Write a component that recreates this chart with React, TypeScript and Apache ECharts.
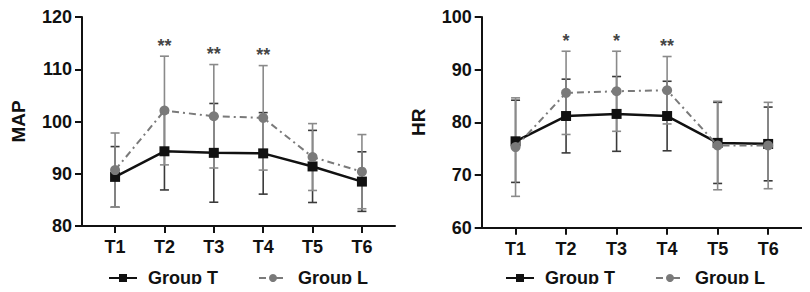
import React, { useEffect, useRef } from "react";
import * as echarts from "echarts";

const categories = ["T1", "T2", "T3", "T4", "T5", "T6"];

const mapT = [89.4, 94.3, 94.0, 93.9, 91.4, 88.5];
const mapTsd = [5.8, 7.4, 9.45, 7.8, 6.9, 5.7];
const mapL = [90.7, 102.1, 101.0, 100.7, 93.2, 90.4];
const mapLsd = [7.1, 10.4, 9.9, 10.0, 6.4, 7.1];
const mapSig = ["", "**", "**", "**", "", ""];

const hrT = [76.4, 81.2, 81.6, 81.2, 76.1, 75.9];
const hrTsd = [7.8, 7.0, 7.1, 6.6, 7.7, 7.0];
const hrL = [75.3, 85.6, 85.9, 86.1, 75.6, 75.6];
const hrLsd = [9.35, 7.9, 7.6, 6.4, 8.4, 8.2];
const hrSig = ["", "*", "*", "**", "", ""];

const mapTicks = { min: 80, max: 120, interval: 10 };
const hrTicks = { min: 60, max: 100, interval: 10 };

const FONT = "Liberation Sans, Arial, sans-serif";
const T_COLOR = "#111111";
const L_COLOR = "#7a7a7a";
const T_ERR = "#3a3a3a";
const L_ERR = "#8a8a8a";

function errorSeries(means: number[], sds: number[], color: string, idx: number, z: number) {
  return {
    type: "custom",
    xAxisIndex: idx,
    yAxisIndex: idx,
    z,
    silent: true,
    data: means.map((m, i) => [i + 1, m - sds[i], m + sds[i]]),
    renderItem: (params: any, api: any) => {
      const lo = api.coord([api.value(0), api.value(1)]);
      const hi = api.coord([api.value(0), api.value(2)]);
      const hw = 4.5;
      const style = { stroke: color, lineWidth: 1.6, fill: "none" };
      return {
        type: "group",
        children: [
          { type: "line", shape: { x1: lo[0], y1: lo[1], x2: hi[0], y2: hi[1] }, style },
          { type: "line", shape: { x1: lo[0] - hw, y1: lo[1], x2: lo[0] + hw, y2: lo[1] }, style },
          { type: "line", shape: { x1: hi[0] - hw, y1: hi[1], x2: hi[0] + hw, y2: hi[1] }, style },
        ],
      };
    },
  };
}

function buildPanel(
  idx: number,
  name: string,
  ticks: { min: number; max: number; interval: number },
  tVals: number[],
  tSd: number[],
  lVals: number[],
  lSd: number[],
  sig: string[]
) {
  const xAxis = {
    type: "value",
    gridIndex: idx,
    min: 0.33,
    max: 6.67,
    splitLine: { show: false },
    axisLine: { show: true, onZero: false, lineStyle: { color: "#111", width: 2 } },
    axisTick: { show: true, length: 7, lineStyle: { color: "#111", width: 2 }, customValues: categories.map((_, i) => i + 1) },
    axisLabel: {
      customValues: categories.map((_, i) => i + 1),
      formatter: (v: number) => categories[Math.round(v) - 1] ?? "",
      color: "#111",
      fontWeight: "bold",
      fontSize: 18,
      fontFamily: FONT,
      margin: 12,
    },
  };
  const yAxis = {
    type: "value",
    gridIndex: idx,
    min: ticks.min,
    max: ticks.max,
    interval: ticks.interval,
    name,
    nameLocation: "middle",
    nameGap: 54,
    nameTextStyle: { color: "#111", fontWeight: "bold", fontSize: 19, fontFamily: FONT },
    splitLine: { show: false },
    axisLine: { show: true, lineStyle: { color: "#111", width: 2 } },
    axisTick: { show: true, length: 7, lineStyle: { color: "#111", width: 2 } },
    axisLabel: { color: "#111", fontWeight: "bold", fontSize: 18, fontFamily: FONT, margin: 10 },
  };
  const series: any[] = [
    errorSeries(tVals, tSd, T_ERR, idx, 2),
    errorSeries(lVals, lSd, L_ERR, idx, 2),
    {
      type: "line",
      name: "Group T",
      xAxisIndex: idx,
      yAxisIndex: idx,
      z: 3,
      data: tVals.map((v, i) => [i + 1, v]),
      symbol: "rect",
      symbolSize: 10,
      itemStyle: { color: T_COLOR },
      lineStyle: { color: T_COLOR, width: 2.5 },
    },
    {
      type: "line",
      name: "Group L",
      xAxisIndex: idx,
      yAxisIndex: idx,
      z: 4,
      data: lVals.map((v, i) => [i + 1, v]),
      symbol: "circle",
      symbolSize: 10,
      itemStyle: { color: L_COLOR },
      lineStyle: { color: L_COLOR, width: 2, type: [7, 4, 2, 4] },
    },
    {
      type: "scatter",
      xAxisIndex: idx,
      yAxisIndex: idx,
      z: 5,
      silent: true,
      symbolSize: 1,
      itemStyle: { color: "rgba(0,0,0,0)" },
      data: lVals.map((v, i) => [i + 1, v + lSd[i]]),
      label: {
        show: true,
        position: "top",
        distance: 1,
        formatter: (p: any) => sig[p.dataIndex],
        color: "#111",
        fontSize: 18,
        fontWeight: "bold",
        fontFamily: FONT,
      },
    },
  ];
  return { xAxis, yAxis, series };
}

export default function App() {
  const ref = useRef<HTMLDivElement>(null);
  useEffect(() => {
    if (!ref.current) return;
    const chart = echarts.init(ref.current, null, { renderer: "svg" });
    const p0 = buildPanel(0, "MAP", mapTicks, mapT, mapTsd, mapL, mapLsd, mapSig);
    const p1 = buildPanel(1, "HR", hrTicks, hrT, hrTsd, hrL, hrLsd, hrSig);
    const legendBase = {
      data: ["Group T", "Group L"],
      itemWidth: 28,
      itemHeight: 10,
      itemGap: 40,
      selectedMode: false,
      padding: 0,
      textStyle: { color: "#111", fontWeight: "bold", fontSize: 18, fontFamily: FONT, padding: [0, 0, 0, 6] },
    };
    chart.setOption({
      animation: false,
      backgroundColor: "#ffffff",
      grid: [
        { left: 64, top: 2, width: 323, height: 216 },
        { left: 473.7, top: 3.7, width: 325, height: 216 },
      ],
      xAxis: [p0.xAxis, p1.xAxis],
      yAxis: [p0.yAxis, p1.yAxis],
      legend: [
        { ...legendBase, left: 100, top: 261 },
        { ...legendBase, left: 497, top: 261 },
      ],
      series: [...p0.series, ...p1.series],
    });
    return () => chart.dispose();
  }, []);
  return <div ref={ref} style={{ width: 794, height: 284, marginBottom: -8 }} />;
}
